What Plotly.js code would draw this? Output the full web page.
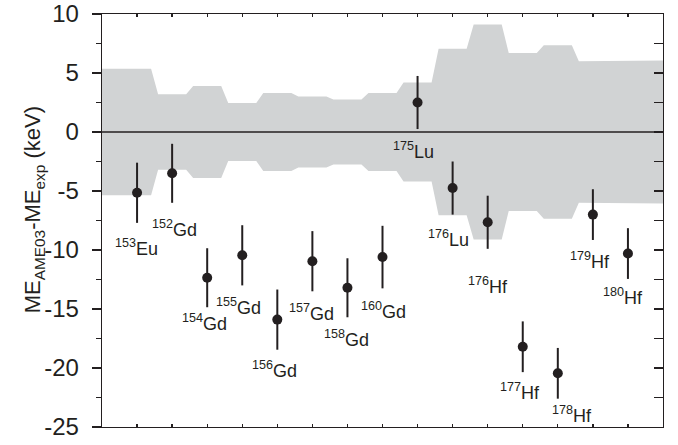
<!DOCTYPE html>
<html>
<head>
<meta charset="utf-8">
<script src="https://cdn.plot.ly/plotly-3.0.1.min.js"></script>
<style>
  html, body { margin: 0; padding: 0; background: #ffffff; }
  #chart { width: 678px; height: 445px; }
</style>
</head>
<body>
<div id="chart"></div>
<script>
// ---- data ----
const massNumbers = ['153','152','154','155','156','157','158','160','175','176','176','177','178','179','180'];
const elements    = ['Eu','Gd','Gd','Gd','Gd','Gd','Gd','Gd','Lu','Lu','Hf','Hf','Hf','Hf','Hf'];
const deltaME     = [-5.15, -3.5, -12.35, -10.45, -15.9, -10.95, -13.2, -10.6, 2.5, -4.75, -7.65, -18.2, -20.45, -7.0, -10.3];
const deltaErr    = [2.55, 2.5, 2.5, 2.55, 2.55, 2.55, 2.5, 2.65, 2.25, 2.25, 2.25, 2.15, 2.15, 2.15, 2.15];
const bandHalf    = [5.35, 3.2, 3.9, 2.45, 3.3, 3.0, 2.75, 3.3, 4.2, 7.05, 9.1, 6.7, 7.35, 6.0, 6.05];
const yTicks      = ['10','5','0','-5','-10','-15','-20','-25'];

// ---- layout-only settings ----
const ink = '#231f20';
const bandColor = '#d1d3d4';
const fontFam = 'Liberation Sans, Arial, Helvetica, sans-serif';
// label offsets (px) from each point
const labelShift = [[-1,-55],[2,-55],[-3,-45],[-4,-51],[-3,-50],[-1,-51],[-1,-51],[1,-53],
                    [-4.5,-48],[-4.6,-50],[0,-63],[-3,-45],[14,-41],[-3,-46],[-5,-43]];

const xPos = massNumbers.map((_, i) => i + 1);
const xMax = xPos.length + 1;

// step band built from the half-widths
const bx = [], byU = [], byL = [];
bandHalf.forEach((h, i) => {
  const x = xPos[i];
  bx.push(i === 0 ? 0 : x - 0.4, i === bandHalf.length - 1 ? xMax : x + 0.4);
  byU.push(h, h);
  byL.push(-h, -h);
});

const traces = [
  { x: bx, y: byU, type: 'scatter', mode: 'lines', fill: 'tozeroy',
    fillcolor: bandColor, line: { width: 0, color: bandColor }, hoverinfo: 'skip', showlegend: false },
  { x: bx, y: byL, type: 'scatter', mode: 'lines', fill: 'tozeroy',
    fillcolor: bandColor, line: { width: 0, color: bandColor }, hoverinfo: 'skip', showlegend: false },
  { x: xPos, y: deltaME, type: 'scatter', mode: 'markers',
    marker: { size: 10, color: ink },
    error_y: { type: 'data', array: deltaErr, visible: true, thickness: 2, width: 0, color: ink },
    showlegend: false },
  { x: [null], y: [null], yaxis: 'y2', type: 'scatter', mode: 'markers', showlegend: false, hoverinfo: 'skip' }
];

const annotations = xPos.map((x, i) => ({
  x: x, y: deltaME[i], xref: 'x', yref: 'y',
  text: '<sup>' + massNumbers[i] + '</sup>' + elements[i],
  showarrow: false, xanchor: 'center', yanchor: 'middle',
  xshift: labelShift[i][0], yshift: labelShift[i][1],
  font: { family: fontFam, size: 18, color: ink }
}));

annotations.push({
  xref: 'paper', yref: 'paper', x: -0.121, y: 0.525,
  xanchor: 'center', yanchor: 'middle', textangle: -90, showarrow: false,
  text: 'ME<sub>AME03</sub>-ME<sub>exp</sub> (keV)',
  font: { family: fontFam, size: 22, color: ink }
});

const yVals = yTicks.map(Number);

const layout = {
  width: 678, height: 445,
  margin: { l: 102, r: 15, t: 14, b: 18, pad: 0 },
  paper_bgcolor: '#ffffff', plot_bgcolor: '#ffffff',
  font: { family: fontFam, color: ink },
  showlegend: false,
  xaxis: {
    range: [0, xMax], tickvals: xPos, ticks: 'inside', ticklen: 3, tickwidth: 1.3, tickcolor: ink,
    showticklabels: false, showline: true, linecolor: ink, linewidth: 1.3, mirror: 'ticks',
    showgrid: false, zeroline: false, fixedrange: true
  },
  yaxis: {
    range: [-25, 10], tickvals: yVals, ticktext: yTicks, ticks: 'outside', ticklen: 9, tickwidth: 1.3,
    tickcolor: ink, ticklabelstandoff: 8,
    minor: { dtick: 2.5, ticks: 'outside', ticklen: 5, tickwidth: 1.3, tickcolor: ink, showgrid: false },
    tickfont: { family: fontFam, size: 24, color: ink },
    showline: true, linecolor: ink, linewidth: 1.3, showgrid: false, zeroline: false, fixedrange: true
  },
  yaxis2: {
    overlaying: 'y', side: 'right', anchor: 'x', range: [-25, 10], dtick: 2.5, tick0: 0,
    ticks: 'inside', ticklen: 9, tickwidth: 1.3, tickcolor: ink, showticklabels: false,
    showline: true, linecolor: ink, linewidth: 1.3, showgrid: false, zeroline: false, fixedrange: true
  },
  shapes: [{
    type: 'line', xref: 'paper', yref: 'y', x0: 0, x1: 1, y0: 0, y1: 0,
    line: { color: ink, width: 1.6 }, layer: 'above'
  }],
  annotations: annotations
};

Plotly.newPlot('chart', traces, layout, { displayModeBar: false, staticPlot: true });
</script>
</body>
</html>
